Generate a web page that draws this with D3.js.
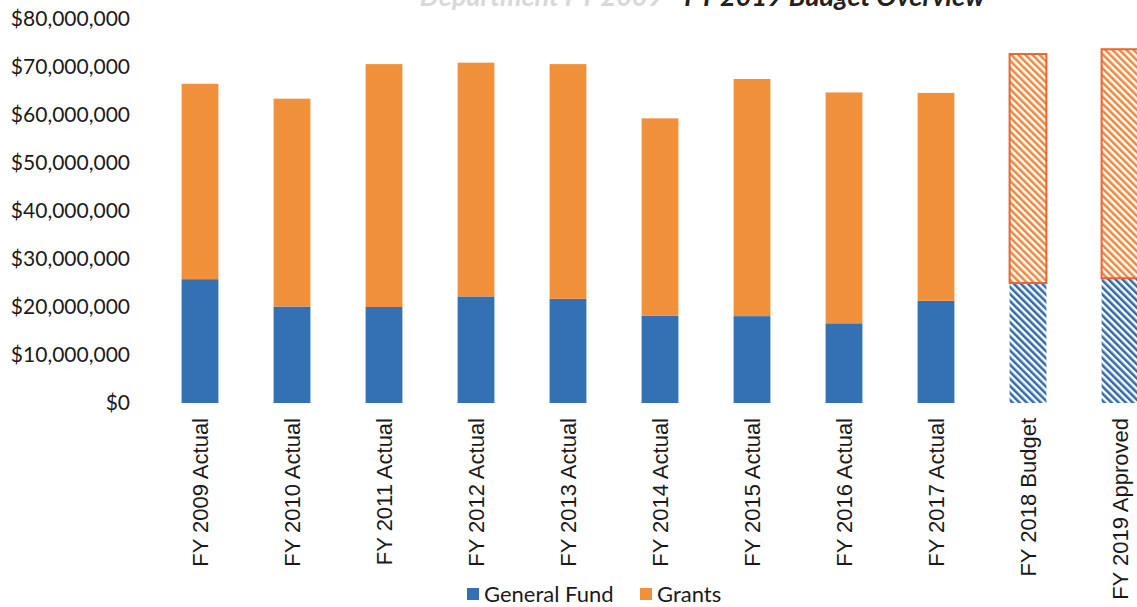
<!DOCTYPE html>
<html>
<head>
<meta charset="utf-8">
<script src="https://cdn.jsdelivr.net/npm/d3@7"></script>
<style>
    body { margin: 0; background: #fff; }
    svg { display: block; }
</style>
</head>
<body>
<div id="chart"></div>
<script>

var categories = ["FY 2009 Actual", "FY 2010 Actual", "FY 2011 Actual", "FY 2012 Actual",
    "FY 2013 Actual", "FY 2014 Actual", "FY 2015 Actual", "FY 2016 Actual",
    "FY 2017 Actual", "FY 2018 Budget", "FY 2019 Approved"];

// values in dollars
var generalFund = [25800000, 20100000, 20000000, 22200000, 21700000, 18200000,
    18100000, 16600000, 21300000, 25000000, 26000000];
var grants = [40700000, 43300000, 50600000, 48700000, 48900000, 41100000,
    49400000, 48100000, 43300000, 47700000, 47700000];

// bars drawn hatched (not actuals)
var hatchedYears = ["FY 2018 Budget", "FY 2019 Approved"];

var yTicks = [0, 10000000, 20000000, 30000000, 40000000, 50000000, 60000000, 70000000, 80000000];

var seriesNames = ["General Fund", "Grants"];
var seriesColors = ["#3470b4", "#f0903a"];

var width = 1137;
var height = 607;

var svg = d3.select("#chart").append("svg")
    .attr("width", width)
    .attr("height", height);

var x = d3.scaleBand()
    .domain(categories)
    .range([144.8, 1175.2])
    .paddingInner(0.6)
    .paddingOuter(0.4);

var y = d3.scaleLinear()
    .domain([0, 80000000])
    .range([403, 19]);

// hatch patterns
var defs = svg.append("defs");
seriesColors.forEach(function (c, i) {
    var p = defs.append("pattern")
        .attr("id", "hatch" + i)
        .attr("patternUnits", "userSpaceOnUse")
        .attr("width", 5)
        .attr("height", 5)
        .attr("patternTransform", "rotate(-45)");
    p.append("rect").attr("width", 5).attr("height", 5).attr("fill", "#fff");
    p.append("line")
        .attr("x1", 1.3).attr("y1", 0)
        .attr("x2", 1.3).attr("y2", 5)
        .attr("stroke", i === 0 ? "#2d66aa" : "#ee8538")
        .attr("stroke-width", 2.5);
});

// title (mostly cut off at the top of the scan)
var title = svg.append("text")
    .attr("x", 985)
    .attr("y", 6)
    .attr("text-anchor", "end")
    .style("font-family", "Lato, 'Open Sans', sans-serif")
    .style("font-weight", "bold")
    .style("font-style", "italic")
    .style("font-size", "27px");
title.append("tspan").attr("fill", "#d8d8d8").text("Department FY 2009 - ");
title.append("tspan").attr("fill", "#222").text("FY 2019 Budget Overview");

// y axis
var yAxis = d3.axisLeft(y)
    .tickValues(yTicks)
    .tickSize(0)
    .tickPadding(0)
    .tickFormat(d3.format("$,"));

var gy = svg.append("g")
    .attr("transform", "translate(130,0)")
    .call(yAxis);
gy.select(".domain").remove();
gy.selectAll("text")
    .attr("fill", "#1a1a1a")
    .style("font-family", "Lato, sans-serif")
    .style("font-size", "21px");

// x axis
var xAxis = d3.axisBottom(x).tickSize(0).tickPadding(0);
var gx = svg.append("g")
    .attr("transform", "translate(0,418)")
    .call(xAxis);
gx.select(".domain").remove();
gx.selectAll("text")
    .attr("transform", "rotate(-90)")
    .attr("x", 0)
    .attr("y", 0)
    .attr("dx", 0)
    .attr("dy", "0.35em")
    .style("text-anchor", "end")
    .attr("fill", "#1a1a1a")
    .style("font-family", "'Liberation Sans', Arial, sans-serif")
    .style("font-size", "22px");

// stacked bars
var stackData = categories.map(function (c, i) {
    return { cat: c, gf: generalFund[i], gr: grants[i] };
});
var stack = d3.stack().keys(["gf", "gr"]);
var layers = stack(stackData);

layers.forEach(function (layer, li) {
    svg.append("g")
        .selectAll("rect")
        .data(layer)
        .enter().append("rect")
        .attr("x", function (d) { return x(d.data.cat); })
        .attr("width", x.bandwidth())
        .attr("y", function (d) { return y(d[1]); })
        .attr("height", function (d) { return y(d[0]) - y(d[1]); })
        .attr("fill", function (d) {
            return hatchedYears.indexOf(d.data.cat) >= 0 ? "url(#hatch" + li + ")" : seriesColors[li];
        })
        .attr("stroke", function (d) {
            if (hatchedYears.indexOf(d.data.cat) >= 0) {
                return li === 1 ? "#e8672e" : "none";
            }
            return "none";
        })
        .attr("stroke-width", 2);
});

// legend
var legend = svg.append("g").attr("transform", "translate(467,588)");
var legendX = [0, 173];
seriesNames.forEach(function (name, i) {
    var item = legend.append("g").attr("transform", "translate(" + legendX[i] + ",0)");
    item.append("rect")
        .attr("width", 12)
        .attr("height", 12)
        .attr("fill", seriesColors[i]);
    item.append("text")
        .attr("x", 17)
        .attr("y", 6)
        .attr("dy", "0.35em")
        .attr("fill", "#1a1a1a")
        .style("font-family", "Lato, sans-serif")
        .style("font-size", "22px")
        .text(name);
});

</script>
</body>
</html>
